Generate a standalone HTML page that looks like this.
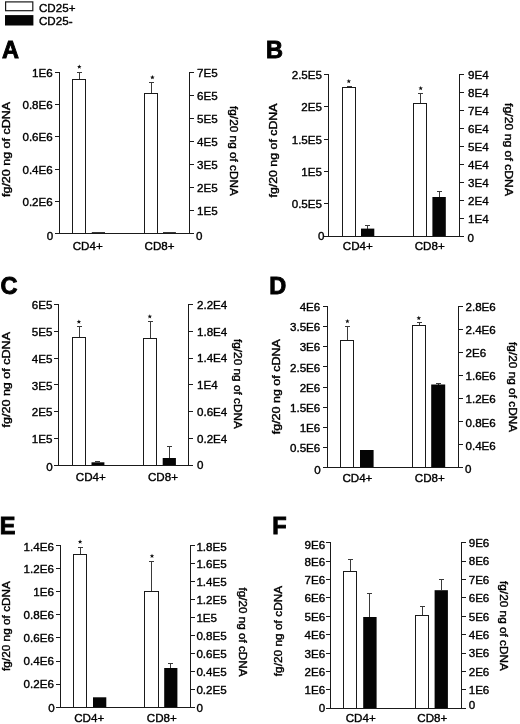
<!DOCTYPE html>
<html><head><meta charset="utf-8"><title>Figure</title>
<style>
html,body{margin:0;padding:0;background:#fff;}
body{width:520px;height:724px;overflow:hidden;font-family:"Liberation Sans",sans-serif;}
svg{display:block;transform:translateZ(0);will-change:transform;}
svg path{fill:none;stroke-width:1;shape-rendering:crispEdges;}
svg text{font-family:"Liberation Sans",sans-serif;font-size:11.6px;fill:#000;stroke:#000;stroke-width:0.38px;stroke-linejoin:round;}
svg text.big{font-weight:bold;stroke-width:0.9px;stroke-linejoin:miter;}
</style></head><body>
<svg width="520" height="724" viewBox="0 0 520 724">
<rect x="0" y="0" width="520" height="724" fill="#fff"/>
<!-- legend -->
<rect x="5.6" y="1.9" width="27.2" height="8.8" fill="#fff" stroke="#1a1a1a" stroke-width="1.2"/>
<rect x="5" y="15.1" width="28.4" height="10.4" fill="#050505"/>
<text x="39.00" y="11.50">CD25+</text>
<text x="39.00" y="25.00">CD25-</text>
<!-- panel A -->
<path d="M79.5 72.00V79.50" stroke="#3a3a3a"/>
<path d="M76.80 72.5H82.20" stroke="#3a3a3a"/>
<path d="M72.5 233.5V79.5H85.5V233.5" fill="#fff" stroke="#1a1a1a"/>
<polygon points="79.30,64.45 79.92,65.95 81.53,66.07 80.30,67.12 80.68,68.70 79.30,67.85 77.92,68.70 78.30,67.12 77.07,66.07 78.68,65.95" fill="#111"/>
<rect x="91.80" y="232.20" width="13.20" height="1.80" fill="#050505"/>
<path d="M151.5 82.00V93.50" stroke="#3a3a3a"/>
<path d="M148.80 82.5H154.20" stroke="#3a3a3a"/>
<path d="M144.5 233.5V93.5H157.5V233.5" fill="#fff" stroke="#1a1a1a"/>
<polygon points="152.40,75.05 153.02,76.55 154.63,76.67 153.40,77.72 153.78,79.30 152.40,78.45 151.02,79.30 151.40,77.72 150.17,76.67 151.78,76.55" fill="#111"/>
<rect x="163.00" y="232.20" width="12.90" height="1.80" fill="#050505"/>
<path d="M59.5 72.00V234.00" stroke="#1a1a1a"/>
<path d="M189.5 72.00V234.00" stroke="#1a1a1a"/>
<path d="M55.00 233.5H194.00" stroke="#1a1a1a"/>
<path d="M55.00 72.5H59.50" stroke="#1a1a1a"/>
<text x="52.75" y="76.85" text-anchor="end">1E6</text>
<path d="M55.00 104.5H59.50" stroke="#1a1a1a"/>
<text x="52.75" y="109.07" text-anchor="end">0.8E6</text>
<path d="M55.00 136.5H59.50" stroke="#1a1a1a"/>
<text x="52.75" y="141.29" text-anchor="end">0.6E6</text>
<path d="M55.00 169.5H59.50" stroke="#1a1a1a"/>
<text x="52.75" y="173.51" text-anchor="end">0.4E6</text>
<path d="M55.00 201.5H59.50" stroke="#1a1a1a"/>
<text x="52.75" y="205.73" text-anchor="end">0.2E6</text>
<text x="53.15" y="239.95" text-anchor="end">0</text>
<path d="M189.50 72.5H194.00" stroke="#1a1a1a"/>
<text x="197.00" y="76.85">7E5</text>
<path d="M189.50 95.5H194.00" stroke="#1a1a1a"/>
<text x="197.00" y="99.87">6E5</text>
<path d="M189.50 118.5H194.00" stroke="#1a1a1a"/>
<text x="197.00" y="122.88">5E5</text>
<path d="M189.50 141.5H194.00" stroke="#1a1a1a"/>
<text x="197.00" y="145.90">4E5</text>
<path d="M189.50 164.5H194.00" stroke="#1a1a1a"/>
<text x="197.00" y="168.91">3E5</text>
<path d="M189.50 187.5H194.00" stroke="#1a1a1a"/>
<text x="197.00" y="191.92">2E5</text>
<path d="M189.50 210.5H194.00" stroke="#1a1a1a"/>
<text x="197.00" y="214.94">1E5</text>
<text x="196.10" y="239.95">0</text>
<text x="72.70" y="250.00">CD4+</text>
<text x="144.60" y="250.00">CD8+</text>
<text x="9.70" y="149.50" style="font-size:10.3px" text-anchor="middle" transform="rotate(-90 9.70 149.50)" textLength="95" lengthAdjust="spacingAndGlyphs">fg/20 ng of cDNA</text>
<text x="229.90" y="151.00" style="font-size:10.3px" text-anchor="middle" transform="rotate(90 229.90 151.00)" textLength="90" lengthAdjust="spacingAndGlyphs">fg/20 ng of cDNA</text>
<text x="1.95" y="57.70" style="font-size:23.5px" class="big">A</text>
<!-- panel B -->
<path d="M349.5 86.00V87.50" stroke="#3a3a3a"/>
<path d="M346.80 86.5H352.20" stroke="#3a3a3a"/>
<path d="M342.5 236.5V87.5H355.5V236.5" fill="#fff" stroke="#1a1a1a"/>
<polygon points="348.80,78.95 349.42,80.45 351.03,80.57 349.80,81.62 350.18,83.20 348.80,82.35 347.42,83.20 347.80,81.62 346.57,80.57 348.18,80.45" fill="#111"/>
<path d="M367.5 225.00V228.60" stroke="#3a3a3a"/>
<path d="M364.80 225.5H370.20" stroke="#3a3a3a"/>
<rect x="361.00" y="228.60" width="13.30" height="8.40" fill="#050505"/>
<path d="M420.5 93.00V103.50" stroke="#3a3a3a"/>
<path d="M417.80 93.5H423.20" stroke="#3a3a3a"/>
<path d="M413.5 236.5V103.5H426.5V236.5" fill="#fff" stroke="#1a1a1a"/>
<polygon points="420.70,85.95 421.32,87.45 422.93,87.57 421.70,88.62 422.08,90.20 420.70,89.35 419.32,90.20 419.70,88.62 418.47,87.57 420.08,87.45" fill="#111"/>
<path d="M439.5 191.00V197.00" stroke="#3a3a3a"/>
<path d="M436.80 191.5H442.20" stroke="#3a3a3a"/>
<rect x="432.40" y="197.00" width="13.40" height="40.00" fill="#050505"/>
<path d="M328.5 74.00V237.00" stroke="#1a1a1a"/>
<path d="M459.5 74.00V237.00" stroke="#1a1a1a"/>
<path d="M324.00 236.5H464.00" stroke="#1a1a1a"/>
<path d="M324.00 74.5H328.50" stroke="#1a1a1a"/>
<text x="322.00" y="79.05" text-anchor="end">2.5E5</text>
<path d="M324.00 106.5H328.50" stroke="#1a1a1a"/>
<text x="322.00" y="111.33" text-anchor="end">2E5</text>
<path d="M324.00 139.5H328.50" stroke="#1a1a1a"/>
<text x="322.00" y="143.61" text-anchor="end">1.5E5</text>
<path d="M324.00 171.5H328.50" stroke="#1a1a1a"/>
<text x="322.00" y="175.89" text-anchor="end">1E5</text>
<path d="M324.00 203.5H328.50" stroke="#1a1a1a"/>
<text x="322.00" y="208.17" text-anchor="end">0.5E5</text>
<text x="324.40" y="239.65" text-anchor="end">0</text>
<path d="M459.50 74.5H464.00" stroke="#1a1a1a"/>
<text x="468.00" y="79.45">9E4</text>
<path d="M459.50 92.5H464.00" stroke="#1a1a1a"/>
<text x="468.00" y="97.39">8E4</text>
<path d="M459.50 110.5H464.00" stroke="#1a1a1a"/>
<text x="468.00" y="115.32">7E4</text>
<path d="M459.50 128.5H464.00" stroke="#1a1a1a"/>
<text x="468.00" y="133.25">6E4</text>
<path d="M459.50 146.5H464.00" stroke="#1a1a1a"/>
<text x="468.00" y="151.19">5E4</text>
<path d="M459.50 164.5H464.00" stroke="#1a1a1a"/>
<text x="468.00" y="169.12">4E4</text>
<path d="M459.50 182.5H464.00" stroke="#1a1a1a"/>
<text x="468.00" y="187.05">3E4</text>
<path d="M459.50 200.5H464.00" stroke="#1a1a1a"/>
<text x="468.00" y="204.99">2E4</text>
<path d="M459.50 218.5H464.00" stroke="#1a1a1a"/>
<text x="468.00" y="222.92">1E4</text>
<text x="467.50" y="242.05">0</text>
<text x="342.80" y="250.30">CD4+</text>
<text x="414.70" y="250.30">CD8+</text>
<text x="276.70" y="150.50" style="font-size:10.3px" text-anchor="middle" transform="rotate(-90 276.70 150.50)" textLength="94" lengthAdjust="spacingAndGlyphs">fg/20 ng of cDNA</text>
<text x="504.90" y="149.60" style="font-size:10.3px" text-anchor="middle" transform="rotate(90 504.90 149.60)" textLength="93" lengthAdjust="spacingAndGlyphs">fg/20 ng of cDNA</text>
<text x="265.95" y="57.80" style="font-size:23.5px" class="big">B</text>
<!-- panel C -->
<path d="M79.5 326.00V337.50" stroke="#3a3a3a"/>
<path d="M76.80 326.5H82.20" stroke="#3a3a3a"/>
<path d="M72.5 465.5V337.5H85.5V465.5" fill="#fff" stroke="#1a1a1a"/>
<polygon points="78.90,319.45 79.52,320.95 81.13,321.07 79.90,322.12 80.28,323.70 78.90,322.85 77.52,323.70 77.90,322.12 76.67,321.07 78.28,320.95" fill="#111"/>
<path d="M97.5 461.00V462.30" stroke="#3a3a3a"/>
<path d="M94.80 461.5H100.20" stroke="#3a3a3a"/>
<rect x="91.50" y="462.30" width="12.90" height="3.70" fill="#050505"/>
<path d="M150.5 321.00V338.50" stroke="#3a3a3a"/>
<path d="M147.80 321.5H153.20" stroke="#3a3a3a"/>
<path d="M143.5 465.5V338.5H156.5V465.5" fill="#fff" stroke="#1a1a1a"/>
<polygon points="149.80,314.20 150.42,315.70 152.03,315.82 150.80,316.87 151.18,318.45 149.80,317.60 148.42,318.45 148.80,316.87 147.57,315.82 149.18,315.70" fill="#111"/>
<path d="M169.5 446.00V458.00" stroke="#3a3a3a"/>
<path d="M166.80 446.5H172.20" stroke="#3a3a3a"/>
<rect x="162.70" y="458.00" width="13.20" height="8.00" fill="#050505"/>
<path d="M58.5 304.00V466.00" stroke="#1a1a1a"/>
<path d="M188.5 304.00V466.00" stroke="#1a1a1a"/>
<path d="M54.00 465.5H193.00" stroke="#1a1a1a"/>
<path d="M54.00 304.5H58.50" stroke="#1a1a1a"/>
<text x="52.40" y="309.15" text-anchor="end">6E5</text>
<path d="M54.00 331.5H58.50" stroke="#1a1a1a"/>
<text x="52.40" y="335.95" text-anchor="end">5E5</text>
<path d="M54.00 358.5H58.50" stroke="#1a1a1a"/>
<text x="52.40" y="362.75" text-anchor="end">4E5</text>
<path d="M54.00 384.5H58.50" stroke="#1a1a1a"/>
<text x="52.40" y="389.55" text-anchor="end">3E5</text>
<path d="M54.00 411.5H58.50" stroke="#1a1a1a"/>
<text x="52.40" y="416.35" text-anchor="end">2E5</text>
<path d="M54.00 438.5H58.50" stroke="#1a1a1a"/>
<text x="52.40" y="443.15" text-anchor="end">1E5</text>
<text x="52.70" y="470.95" text-anchor="end">0</text>
<path d="M188.50 304.5H193.00" stroke="#1a1a1a"/>
<text x="197.00" y="308.85">2.2E4</text>
<path d="M188.50 331.5H193.00" stroke="#1a1a1a"/>
<text x="197.00" y="335.65">1.8E4</text>
<path d="M188.50 358.5H193.00" stroke="#1a1a1a"/>
<text x="197.00" y="362.45">1.4E4</text>
<path d="M188.50 384.5H193.00" stroke="#1a1a1a"/>
<text x="197.00" y="389.25">1E4</text>
<path d="M188.50 411.5H193.00" stroke="#1a1a1a"/>
<text x="197.00" y="416.05">0.6E4</text>
<path d="M188.50 438.5H193.00" stroke="#1a1a1a"/>
<text x="197.00" y="442.85">0.2E4</text>
<text x="197.00" y="469.25">0</text>
<text x="75.80" y="480.60">CD4+</text>
<text x="148.00" y="480.60">CD8+</text>
<text x="9.70" y="379.75" style="font-size:10.3px" text-anchor="middle" transform="rotate(-90 9.70 379.75)" textLength="95.5" lengthAdjust="spacingAndGlyphs">fg/20 ng of cDNA</text>
<text x="234.20" y="384.00" style="font-size:10.3px" text-anchor="middle" transform="rotate(90 234.20 384.00)" textLength="90" lengthAdjust="spacingAndGlyphs">fg/20 ng of cDNA</text>
<text x="0.55" y="294.20" style="font-size:23.5px" class="big">C</text>
<!-- panel D -->
<path d="M347.5 326.00V340.50" stroke="#3a3a3a"/>
<path d="M344.80 326.5H350.20" stroke="#3a3a3a"/>
<path d="M340.5 467.5V340.5H353.5V467.5" fill="#fff" stroke="#1a1a1a"/>
<polygon points="347.40,318.95 348.02,320.45 349.63,320.57 348.40,321.62 348.78,323.20 347.40,322.35 346.02,323.20 346.40,321.62 345.17,320.57 346.78,320.45" fill="#111"/>
<rect x="360.00" y="450.00" width="13.60" height="18.00" fill="#050505"/>
<path d="M419.5 322.00V325.50" stroke="#3a3a3a"/>
<path d="M416.80 322.5H422.20" stroke="#3a3a3a"/>
<path d="M412.5 467.5V325.5H425.5V467.5" fill="#fff" stroke="#1a1a1a"/>
<polygon points="418.80,315.75 419.42,317.25 421.03,317.37 419.80,318.42 420.18,320.00 418.80,319.15 417.42,320.00 417.80,318.42 416.57,317.37 418.18,317.25" fill="#111"/>
<path d="M438.5 383.00V384.50" stroke="#3a3a3a"/>
<path d="M435.80 383.5H441.20" stroke="#3a3a3a"/>
<rect x="431.20" y="384.50" width="14.00" height="83.50" fill="#050505"/>
<path d="M327.5 306.00V468.00" stroke="#1a1a1a"/>
<path d="M458.5 306.00V468.00" stroke="#1a1a1a"/>
<path d="M323.00 467.5H463.00" stroke="#1a1a1a"/>
<path d="M323.00 306.5H327.50" stroke="#1a1a1a"/>
<text x="320.30" y="310.95" text-anchor="end">4E6</text>
<path d="M323.00 326.5H327.50" stroke="#1a1a1a"/>
<text x="320.30" y="331.14" text-anchor="end">3.5E6</text>
<path d="M323.00 346.5H327.50" stroke="#1a1a1a"/>
<text x="320.30" y="351.33" text-anchor="end">3E6</text>
<path d="M323.00 366.5H327.50" stroke="#1a1a1a"/>
<text x="320.30" y="371.52" text-anchor="end">2.5E6</text>
<path d="M323.00 387.5H327.50" stroke="#1a1a1a"/>
<text x="320.30" y="391.70" text-anchor="end">2E6</text>
<path d="M323.00 407.5H327.50" stroke="#1a1a1a"/>
<text x="320.30" y="411.89" text-anchor="end">1.5E6</text>
<path d="M323.00 427.5H327.50" stroke="#1a1a1a"/>
<text x="320.30" y="432.08" text-anchor="end">1E6</text>
<path d="M323.00 447.5H327.50" stroke="#1a1a1a"/>
<text x="320.30" y="452.27" text-anchor="end">0.5E6</text>
<text x="320.80" y="473.65" text-anchor="end">0</text>
<path d="M458.50 306.5H463.00" stroke="#1a1a1a"/>
<text x="465.50" y="311.15">2.8E6</text>
<path d="M458.50 329.5H463.00" stroke="#1a1a1a"/>
<text x="465.50" y="334.22">2.4E6</text>
<path d="M458.50 352.5H463.00" stroke="#1a1a1a"/>
<text x="465.50" y="357.30">2E6</text>
<path d="M458.50 375.5H463.00" stroke="#1a1a1a"/>
<text x="465.50" y="380.37">1.6E6</text>
<path d="M458.50 398.5H463.00" stroke="#1a1a1a"/>
<text x="465.50" y="403.44">1.2E6</text>
<path d="M458.50 421.5H463.00" stroke="#1a1a1a"/>
<text x="465.50" y="426.51">0.8E6</text>
<path d="M458.50 444.5H463.00" stroke="#1a1a1a"/>
<text x="465.50" y="449.58">0.4E6</text>
<text x="465.10" y="472.85">0</text>
<text x="342.40" y="482.00">CD4+</text>
<text x="414.80" y="482.00">CD8+</text>
<text x="280.20" y="386.75" style="font-size:10.3px" text-anchor="middle" transform="rotate(-90 280.20 386.75)" textLength="95" lengthAdjust="spacingAndGlyphs">fg/20 ng of cDNA</text>
<text x="509.40" y="387.10" style="font-size:10.3px" text-anchor="middle" transform="rotate(90 509.40 387.10)" textLength="90" lengthAdjust="spacingAndGlyphs">fg/20 ng of cDNA</text>
<text x="269.15" y="294.00" style="font-size:23.5px" class="big">D</text>
<!-- panel E -->
<path d="M80.5 547.00V554.50" stroke="#3a3a3a"/>
<path d="M77.80 547.5H83.20" stroke="#3a3a3a"/>
<path d="M73.5 707.5V554.5H86.5V707.5" fill="#fff" stroke="#1a1a1a"/>
<polygon points="80.10,539.45 80.72,540.95 82.33,541.07 81.10,542.12 81.48,543.70 80.10,542.85 78.72,543.70 79.10,542.12 77.87,541.07 79.48,540.95" fill="#111"/>
<rect x="93.00" y="697.30" width="13.30" height="10.70" fill="#050505"/>
<path d="M151.5 561.00V591.50" stroke="#3a3a3a"/>
<path d="M148.80 561.5H154.20" stroke="#3a3a3a"/>
<path d="M144.5 707.5V591.5H158.5V707.5" fill="#fff" stroke="#1a1a1a"/>
<polygon points="152.00,553.65 152.62,555.15 154.23,555.27 153.00,556.32 153.38,557.90 152.00,557.05 150.62,557.90 151.00,556.32 149.77,555.27 151.38,555.15" fill="#111"/>
<path d="M170.5 663.00V668.00" stroke="#3a3a3a"/>
<path d="M167.80 663.5H173.20" stroke="#3a3a3a"/>
<rect x="164.20" y="668.00" width="13.20" height="40.00" fill="#050505"/>
<path d="M60.5 545.00V708.00" stroke="#1a1a1a"/>
<path d="M190.5 545.00V708.00" stroke="#1a1a1a"/>
<path d="M56.00 707.5H195.00" stroke="#1a1a1a"/>
<path d="M56.00 545.5H60.50" stroke="#1a1a1a"/>
<text x="53.90" y="551.25" text-anchor="end">1.4E6</text>
<path d="M56.00 568.5H60.50" stroke="#1a1a1a"/>
<text x="53.90" y="573.10" text-anchor="end">1.2E6</text>
<path d="M56.00 591.5H60.50" stroke="#1a1a1a"/>
<text x="53.90" y="596.14" text-anchor="end">1E6</text>
<path d="M56.00 614.5H60.50" stroke="#1a1a1a"/>
<text x="53.90" y="619.18" text-anchor="end">0.8E6</text>
<path d="M56.00 637.5H60.50" stroke="#1a1a1a"/>
<text x="53.90" y="642.22" text-anchor="end">0.6E6</text>
<path d="M56.00 661.5H60.50" stroke="#1a1a1a"/>
<text x="53.90" y="665.27" text-anchor="end">0.4E6</text>
<path d="M56.00 684.5H60.50" stroke="#1a1a1a"/>
<text x="53.90" y="688.31" text-anchor="end">0.2E6</text>
<text x="54.70" y="711.55" text-anchor="end">0</text>
<path d="M190.50 545.5H195.00" stroke="#1a1a1a"/>
<text x="196.40" y="550.55">1.8E5</text>
<path d="M190.50 563.5H195.00" stroke="#1a1a1a"/>
<text x="196.40" y="568.48">1.6E5</text>
<path d="M190.50 581.5H195.00" stroke="#1a1a1a"/>
<text x="196.40" y="586.40">1.4E5</text>
<path d="M190.50 599.5H195.00" stroke="#1a1a1a"/>
<text x="196.40" y="604.32">1.2E5</text>
<path d="M190.50 617.5H195.00" stroke="#1a1a1a"/>
<text x="196.40" y="622.24">1E5</text>
<path d="M190.50 635.5H195.00" stroke="#1a1a1a"/>
<text x="196.40" y="640.16">0.8E5</text>
<path d="M190.50 653.5H195.00" stroke="#1a1a1a"/>
<text x="196.40" y="658.09">0.6E5</text>
<path d="M190.50 671.5H195.00" stroke="#1a1a1a"/>
<text x="196.40" y="676.01">0.4E5</text>
<path d="M190.50 689.5H195.00" stroke="#1a1a1a"/>
<text x="196.40" y="693.93">0.2E5</text>
<text x="196.60" y="711.85">0</text>
<text x="74.20" y="721.50">CD4+</text>
<text x="146.80" y="721.60">CD8+</text>
<text x="10.20" y="626.00" style="font-size:10.3px" text-anchor="middle" transform="rotate(-90 10.20 626.00)" textLength="90" lengthAdjust="spacingAndGlyphs">fg/20 ng of cDNA</text>
<text x="238.70" y="632.00" style="font-size:10.3px" text-anchor="middle" transform="rotate(90 238.70 632.00)" textLength="89" lengthAdjust="spacingAndGlyphs">fg/20 ng of cDNA</text>
<text x="-0.35" y="533.60" style="font-size:23.5px" class="big">E</text>
<!-- panel F -->
<path d="M350.5 559.00V571.50" stroke="#3a3a3a"/>
<path d="M347.80 559.5H353.20" stroke="#3a3a3a"/>
<path d="M343.5 708.5V571.5H356.5V708.5" fill="#fff" stroke="#1a1a1a"/>
<path d="M369.5 593.00V617.00" stroke="#3a3a3a"/>
<path d="M366.80 593.5H372.20" stroke="#3a3a3a"/>
<rect x="363.20" y="617.00" width="13.40" height="92.00" fill="#050505"/>
<path d="M422.5 606.00V615.50" stroke="#3a3a3a"/>
<path d="M419.80 606.5H425.20" stroke="#3a3a3a"/>
<path d="M415.5 708.5V615.5H428.5V708.5" fill="#fff" stroke="#1a1a1a"/>
<path d="M441.5 579.00V590.20" stroke="#3a3a3a"/>
<path d="M438.80 579.5H444.20" stroke="#3a3a3a"/>
<rect x="434.60" y="590.20" width="13.30" height="118.80" fill="#050505"/>
<path d="M330.5 542.00V709.00" stroke="#1a1a1a"/>
<path d="M461.5 542.00V709.00" stroke="#1a1a1a"/>
<path d="M326.00 708.5H466.00" stroke="#1a1a1a"/>
<path d="M326.00 542.5H330.50" stroke="#1a1a1a"/>
<text x="325.10" y="549.35" text-anchor="end">9E6</text>
<path d="M326.00 561.5H330.50" stroke="#1a1a1a"/>
<text x="325.10" y="565.65" text-anchor="end">8E6</text>
<path d="M326.00 579.5H330.50" stroke="#1a1a1a"/>
<text x="325.10" y="584.05" text-anchor="end">7E6</text>
<path d="M326.00 597.5H330.50" stroke="#1a1a1a"/>
<text x="325.10" y="602.45" text-anchor="end">6E6</text>
<path d="M326.00 616.5H330.50" stroke="#1a1a1a"/>
<text x="325.10" y="620.85" text-anchor="end">5E6</text>
<path d="M326.00 634.5H330.50" stroke="#1a1a1a"/>
<text x="325.10" y="639.25" text-anchor="end">4E6</text>
<path d="M326.00 653.5H330.50" stroke="#1a1a1a"/>
<text x="325.10" y="657.65" text-anchor="end">3E6</text>
<path d="M326.00 671.5H330.50" stroke="#1a1a1a"/>
<text x="325.10" y="676.05" text-anchor="end">2E6</text>
<path d="M326.00 689.5H330.50" stroke="#1a1a1a"/>
<text x="325.10" y="694.45" text-anchor="end">1E6</text>
<text x="325.30" y="712.25" text-anchor="end">0</text>
<path d="M461.50 542.5H466.00" stroke="#1a1a1a"/>
<text x="468.70" y="547.05">9E6</text>
<path d="M461.50 561.5H466.00" stroke="#1a1a1a"/>
<text x="468.70" y="565.45">8E6</text>
<path d="M461.50 579.5H466.00" stroke="#1a1a1a"/>
<text x="468.70" y="583.85">7E6</text>
<path d="M461.50 597.5H466.00" stroke="#1a1a1a"/>
<text x="468.70" y="602.25">6E6</text>
<path d="M461.50 616.5H466.00" stroke="#1a1a1a"/>
<text x="468.70" y="620.65">5E6</text>
<path d="M461.50 634.5H466.00" stroke="#1a1a1a"/>
<text x="468.70" y="639.05">4E6</text>
<path d="M461.50 653.5H466.00" stroke="#1a1a1a"/>
<text x="468.70" y="657.45">3E6</text>
<path d="M461.50 671.5H466.00" stroke="#1a1a1a"/>
<text x="468.70" y="675.85">2E6</text>
<path d="M461.50 689.5H466.00" stroke="#1a1a1a"/>
<text x="468.70" y="694.25">1E6</text>
<text x="468.70" y="708.65">0</text>
<text x="345.70" y="721.70">CD4+</text>
<text x="417.30" y="721.70">CD8+</text>
<text x="282.20" y="631.00" style="font-size:10.3px" text-anchor="middle" transform="rotate(-90 282.20 631.00)" textLength="90.5" lengthAdjust="spacingAndGlyphs">fg/20 ng of cDNA</text>
<text x="499.90" y="626.00" style="font-size:10.3px" text-anchor="middle" transform="rotate(90 499.90 626.00)" textLength="90" lengthAdjust="spacingAndGlyphs">fg/20 ng of cDNA</text>
<text x="272.35" y="533.80" style="font-size:23.5px" class="big">F</text>
</svg>
</body></html>
